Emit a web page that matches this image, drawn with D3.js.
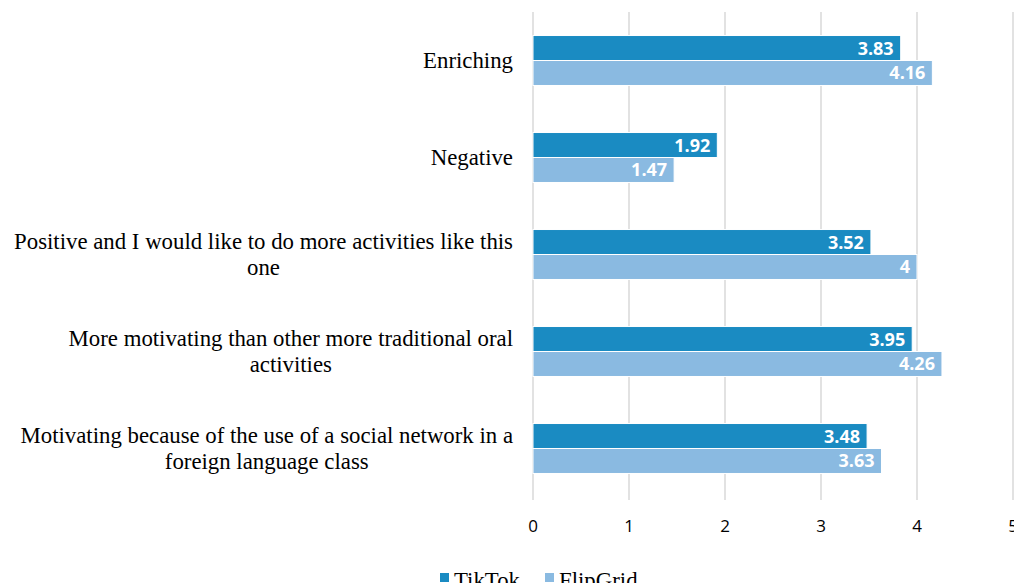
<!DOCTYPE html>
<html>
<head>
<meta charset="utf-8">
<script src="https://cdn.jsdelivr.net/npm/d3@7"></script>
<style>
  body { margin: 0; background: #fff; }
  svg { display: block; }
</style>
</head>
<body>
<svg class="chart" width="1014" height="583"></svg>
<script>
const categories = [
    ['Enriching'],
    ['Negative'],
    ['Positive and I would like to do more activities like this', 'one'],
    ['More motivating than other more traditional oral', 'activities'],
    ['Motivating because of the use of a social network in a', 'foreign language class'],
];
const seriesNames = ['TikTok', 'FlipGrid'];
const tiktokValues = [3.83, 1.92, 3.52, 3.95, 3.48];
const flipgridValues = [4.16, 1.47, 4, 4.26, 3.63];
const xTicks = [0, 1, 2, 3, 4, 5];
const colors = ['#1a8bc2', '#8abae1'];

const svgElement = d3.select('.chart');
const xs = d3.scaleLinear().domain([0, 5]).range([533, 1013]);
const ys = d3.scaleBand().domain(d3.range(categories.length)).range([12, 497]).paddingInner(0.485).paddingOuter(0.2425);
const inner = d3.scaleBand().domain([0, 1]).range([0, ys.bandwidth()]);

// gridlines
svgElement.append('g')
    .selectAll('line')
    .data(xTicks)
    .enter()
    .append('line')
    .attr('x1', d => xs(d)).attr('x2', d => xs(d))
    .attr('y1', 12).attr('y2', 500)
    .attr('stroke', '#d9d9d9')
    .attr('stroke-width', 1.5);

// tick labels
svgElement.append('g')
    .selectAll('text')
    .data(xTicks)
    .enter()
    .append('text')
    .attr('x', d => xs(d))
    .attr('y', 532)
    .attr('text-anchor', 'middle')
    .attr('font-family', 'Open Sans, Liberation Sans, sans-serif')
    .attr('font-size', 17)
    .attr('fill', '#000')
    .text(d => d);

// bars
const series = [tiktokValues, flipgridValues];
series.forEach((values, s) => {
    const g = svgElement.append('g');
    g.selectAll('rect')
        .data(values)
        .enter()
        .append('rect')
        .attr('x', xs(0))
        .attr('y', (d, i) => ys(i) + inner(s))
        .attr('width', d => xs(d) - xs(0))
        .attr('height', inner.bandwidth())
        .attr('fill', colors[s])
        .attr('stroke', '#fff')
        .attr('stroke-width', 1);
    g.selectAll('text')
        .data(values)
        .enter()
        .append('text')
        .attr('x', d => xs(d) - 7)
        .attr('y', (d, i) => ys(i) + inner(s) + inner.bandwidth() / 2 + 6.5)
        .attr('text-anchor', 'end')
        .attr('font-family', 'Open Sans, Liberation Sans, sans-serif')
        .attr('font-weight', 'bold')
        .attr('font-size', 18)
        .attr('fill', '#fff')
        .text(d => d);
});

// category labels (centered lines, block right-aligned)
const labelGroup = svgElement.append('g');
categories.forEach((lines, i) => {
    const cy = ys(i) + ys.bandwidth() / 2;
    const text = labelGroup.append('text')
        .attr('font-family', 'Liberation Serif, Times New Roman, serif')
        .attr('font-size', 22.8)
        .attr('fill', '#000')
        .attr('text-anchor', 'middle');
    const lineH = 26;
    const tspans = lines.map((line, j) => text.append('tspan')
        .attr('y', cy + 7 - (lines.length - 1) * lineH / 2 + j * lineH)
        .text(line));
    const widths = tspans.map(t => t.node().getComputedTextLength());
    const maxW = Math.max(...widths);
    tspans.forEach(t => t.attr('x', 513 - maxW / 2));
});

// legend
const legend = svgElement.append('g');
const legendX = [440, 545];
seriesNames.forEach((name, s) => {
    legend.append('rect')
        .attr('x', legendX[s]).attr('y', 573)
        .attr('width', 9).attr('height', 9)
        .attr('fill', colors[s]);
    legend.append('text')
        .attr('x', legendX[s] + 14)
        .attr('y', 588)
        .attr('font-family', 'Liberation Serif, Times New Roman, serif')
        .attr('font-size', 22.8)
        .attr('fill', '#000')
        .text(name);
});
</script>
</body>
</html>
